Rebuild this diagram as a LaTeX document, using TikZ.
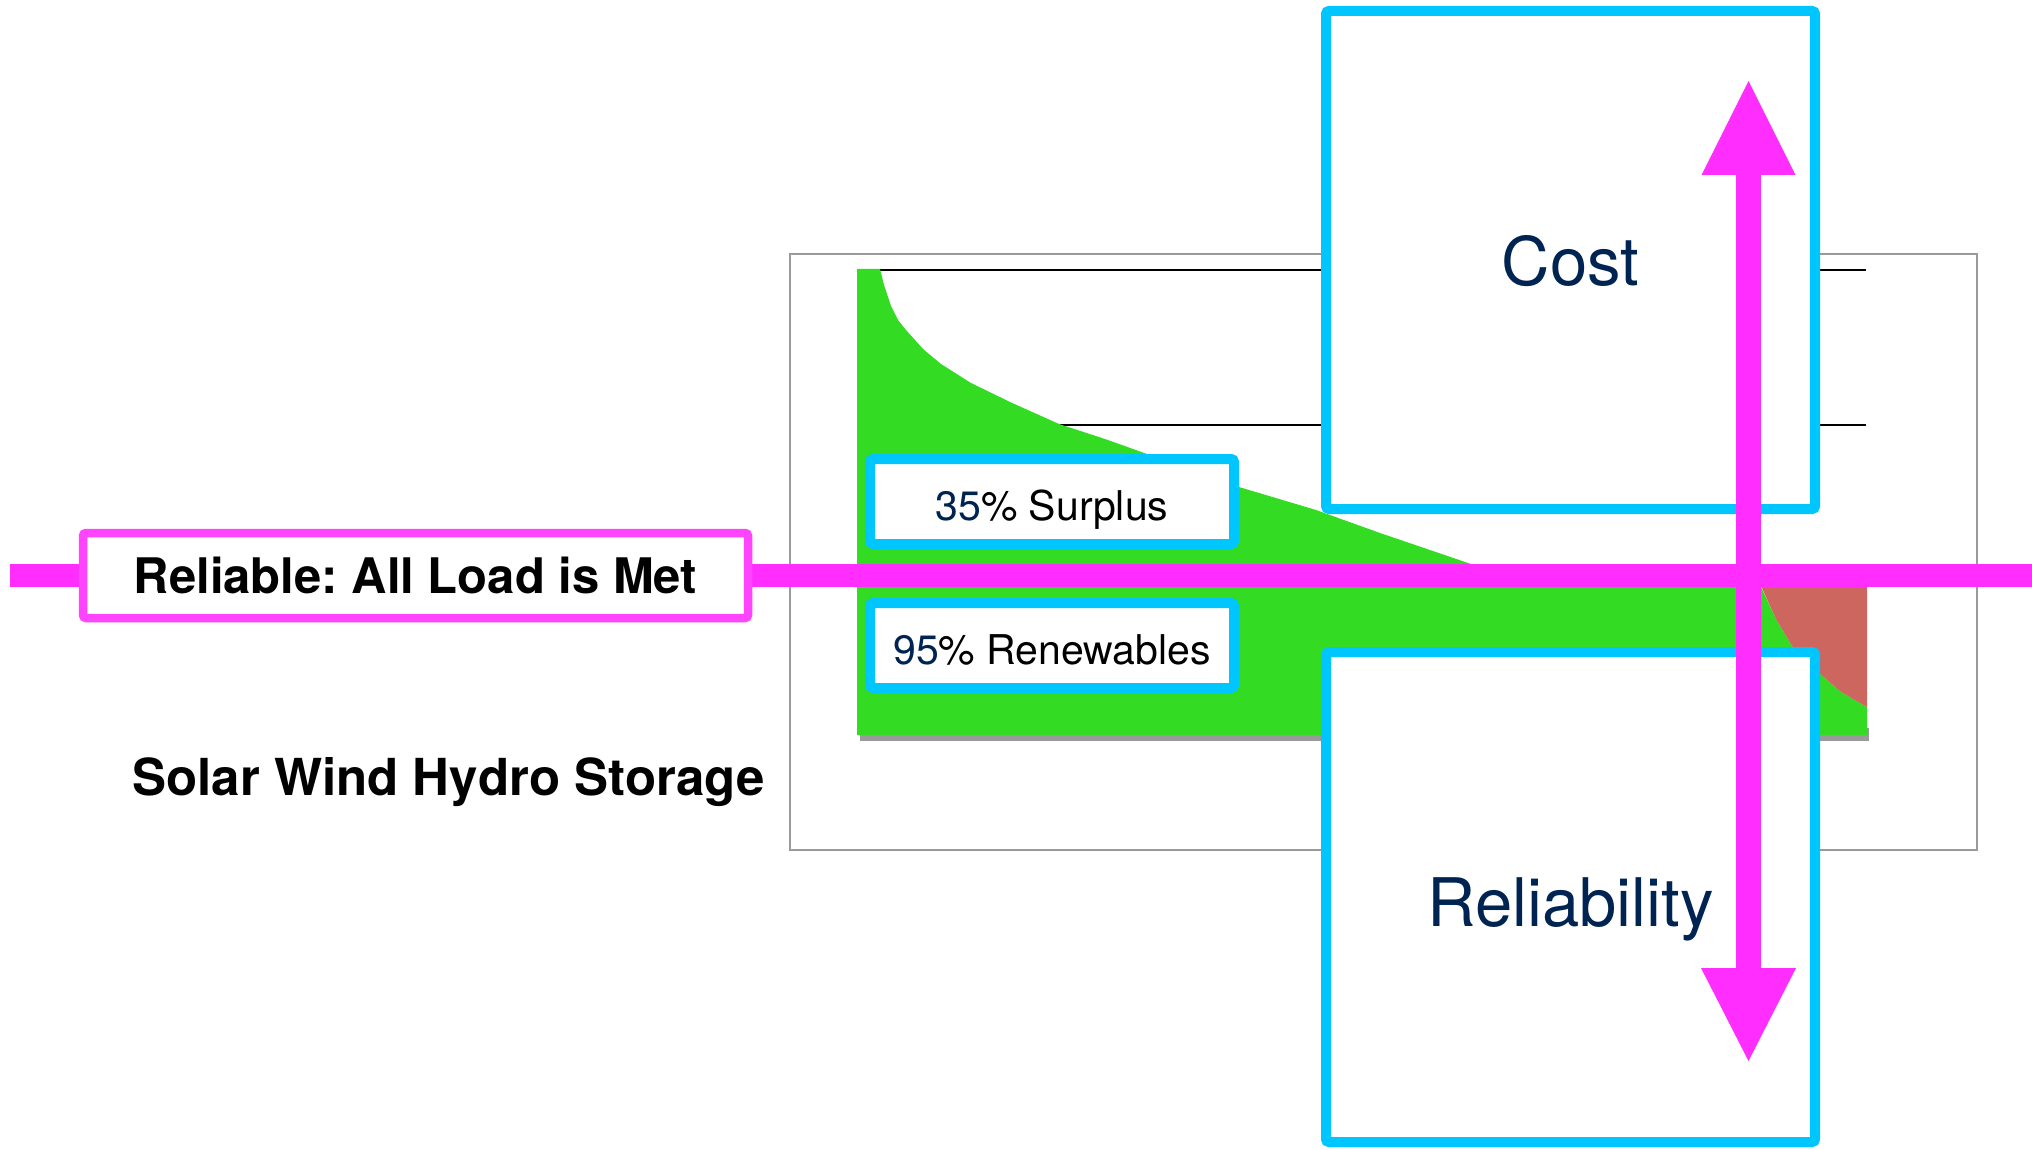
\documentclass[tikz,border=0pt]{standalone}
\usepackage{fontspec}
\setmainfont{TeX Gyre Heros}
\usetikzlibrary{calc}
\definecolor{cyanb}{HTML}{00C6FF}
\definecolor{magl}{HTML}{FF2EFF}
\definecolor{magbox}{HTML}{FF44FF}
\definecolor{grn}{HTML}{33DB22}
\definecolor{redf}{HTML}{CC665E}
\definecolor{navy}{HTML}{002452}
\definecolor{framegray}{HTML}{9A9A9A}
\frenchspacing
\begin{document}
\begin{tikzpicture}[x=1pt,y=-1pt,
  bigbox/.style={draw=cyanb, line width=10pt, fill=white, rounded corners=3pt,
    minimum width=489pt, inner sep=0pt, text=navy,
    font=\fontsize{67}{80}\selectfont, text depth=0pt},
  smallbox/.style={draw=cyanb, line width=10pt, fill=white, rounded corners=3pt,
    minimum width=364pt, minimum height=85pt, inner sep=0pt,
    font=\fontsize{41}{49}\selectfont, text depth=0pt, text height=37pt},
  relbox/.style={draw=magbox, line width=8.5pt, fill=white, rounded corners=3pt,
    minimum width=665pt, minimum height=85pt, inner sep=0pt,
    font=\bfseries\fontsize{49}{58}\selectfont, text depth=0pt},
  magline/.style={draw=magl, line width=23pt},
  magshaft/.style={draw=magl, line width=25pt},
  gridline/.style={draw=black, line width=2pt}
]
\useasboundingbox (0,0) rectangle (2032,1150);
\fill[white] (0,0) rectangle (2032,1150);

% chart frame
\draw[framegray, line width=2pt] (790,254) rectangle (1977,850);

% grid lines
\draw[gridline] (880,270.5) -- (1866,270.5);
\draw[gridline] (1059,424.5) -- (1866,424.5);

% baseline shadow
\fill[framegray] (860,728) rectangle (1869,741);

% green generation area
\fill[grn] (857,735) -- (857,269) -- (880,269) -- (884,285) -- (891,306) -- (898,320)
  -- (906,330) -- (915,340) -- (923,349) -- (941,364) -- (971,383) -- (1010,402)
  -- (1059,424) -- (1105,439) -- (1147,454) -- (1239,487) -- (1316,510)
  -- (1380,533) -- (1471,564) -- (1600,578) -- (1761,587) -- (1776,619)
  -- (1792,646) -- (1818,672) -- (1841,692) -- (1867,707) -- (1867,735) -- cycle;

% red deficit area
\fill[redf] (1761,586) -- (1867,586) -- (1867,707) -- (1841,692) -- (1818,672)
  -- (1792,646) -- (1776,619) -- cycle;

% small boxes
\node[smallbox] (surplus) at (1052,501.5) {\textcolor{navy}{35}\% Surplus};
\node[smallbox] (renew) at (1052,645.5) {\textcolor{navy}{95}\% Renewables};

% big boxes
\node[bigbox, minimum height=498pt] (cost) at (1570.5,260) {Cost};
\node[bigbox, minimum height=490pt, text height=58pt] (relia) at (1570.5,897) {Reliability};

% horizontal magenta line
\coordinate (hL) at (10,575);
\coordinate (hR) at (2032,575);
\draw[magline] (hL) -- (hR);

\node[relbox] (reliable) at (415.5,575.5) {Reliable: All Load is Met};

\node[font=\bfseries\fontsize{51}{60}\selectfont, text depth=0pt, inner sep=0pt]
  (sources) at (448.5,776.5) {Solar Wind Hydro Storage};

% vertical double arrow
\coordinate (aTop) at (1748.5,81);
\coordinate (aBot) at (1748.5,1061);
\draw[magshaft] ($(aTop)+(0,90)$) -- ($(aBot)+(0,-89)$);
\fill[magl] (aTop) -- ($(aTop)+(-47,94)$) -- ($(aTop)+(47,94)$) -- cycle;
\fill[magl] (aBot) -- ($(aBot)+(-47.5,-93)$) -- ($(aBot)+(47.5,-93)$) -- cycle;
\end{tikzpicture}
\end{document}
